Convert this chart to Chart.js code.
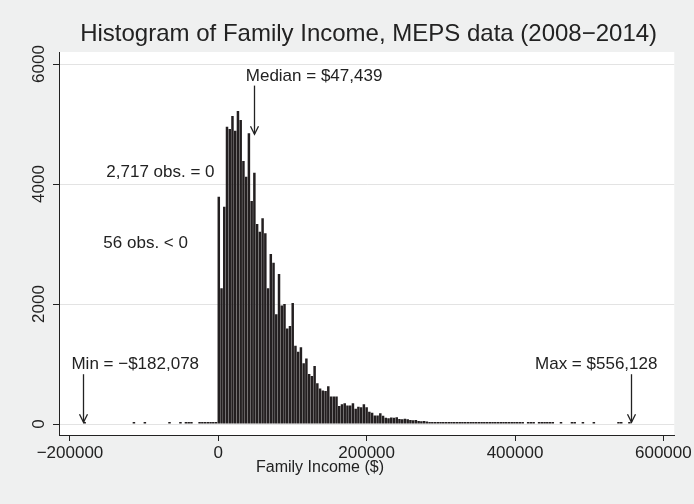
<!DOCTYPE html>
<html>
<head>
<meta charset="utf-8">
<script src="https://cdn.jsdelivr.net/npm/chart.js@4.4.1/dist/chart.umd.min.js"></script>
<style>
  html, body { margin: 0; padding: 0; background: #eff0f0; }
</style>
</head>
<body>
<canvas id="hist" width="694" height="504"></canvas>
<script>
// 200 equal bins between the smallest and largest family income
const minIncome = -182078;
const maxIncome = 556128;
const medianIncome = 47439;
const nBins = 200;
const zeroObs = 2717;
const negObs = 56;

// bins 0-48, all below zero (mostly empty)
const negCounts = [
  1, 0, 0, 0, 0, 0, 0, 0, 0, 0,
  0, 0, 0, 0, 0, 0, 0, 0, 1, 0,
  0, 0, 1, 0, 0, 0, 0, 0, 0, 0,
  0, 1, 0, 0, 0, 1, 0, 1, 2, 1,
  0, 0, 2, 3, 3, 4, 5, 8, 20
];

// bins 49-199, starting with the bin that holds zero
const posCounts = [
  3789, 2261, 3622, 4956, 4917, 5133, 4889, 5217, 5067, 4383,
  4122, 4844, 3717, 4189, 3333, 3206, 3428, 3178, 2261, 2833,
  2689, 1828, 2500, 1975, 2000, 1590, 1633, 2015, 1306, 1206,
  1278, 1011, 1094, 833, 800, 967, 678, 594, 560, 550,
  630, 460, 460, 460, 300, 330, 345, 310, 310, 345,
  256, 289, 278, 328, 278, 206, 189, 144, 144, 178,
  139, 106, 95, 110, 105, 112, 85, 80, 86, 78,
  68, 62, 66, 52, 48, 50, 44, 30, 28, 14,
  12, 33, 30, 34, 18, 16, 27, 26, 12, 10,
  9, 11, 8, 10, 8, 9, 7, 10, 7, 8,
  6, 8, 6, 7, 5, 6, 5, 6, 4, 5,
  3, 4, 0, 3, 2, 3, 0, 2, 3, 2,
  2, 3, 2, 0, 0, 1, 0, 0, 0, 1,
  1, 0, 0, 1, 0, 0, 0, 1, 0, 0,
  0, 0, 0, 0, 0, 0, 1, 1, 0, 0,
  1
];

const xTicks = [-200000, 0, 200000, 400000, 600000];
const yTicks = [0, 2000, 4000, 6000];

const titleText = 'Histogram of Family Income, MEPS data (2008\u22122014)';
const xTitle = 'Family Income ($)';

const ink = '#222222';
const font = '"Liberation Sans", Arial, Helvetica, sans-serif';

const money = v => (v < 0 ? '\u2212$' : '$') + Math.abs(v).toLocaleString('en-US');
const plain = v => (v < 0 ? '\u2212' : '') + Math.abs(v);

const binWidth = (maxIncome - minIncome) / nBins;
const counts = negCounts.concat(posCounts);
const bars = [];
counts.forEach((c, i) => {
  if (c > 0) bars.push({ x: minIncome + (i + 0.5) * binWidth, y: c });
});

const notes = [
  { text: 'Median = ' + money(medianIncome), x: 37000, y: 5790 },
  { text: zeroObs.toLocaleString('en-US') + ' obs. = 0', x: -151000, y: 4200 },
  { text: negObs + ' obs. < 0', x: -155000, y: 3010 },
  { text: 'Min = ' + money(minIncome), x: -198000, y: 1000 },
  { text: 'Max = ' + money(maxIncome), x: 427000, y: 1000 }
];
const arrows = [
  { x: medianIncome, from: 5640, to: 4830 },
  { x: minIncome, from: 830, to: 30 },
  { x: maxIncome, from: 830, to: 30 }
];

const decor = {
  id: 'decor',
  beforeDraw(chart) {
    const { ctx, chartArea: a } = chart;
    ctx.save();
    ctx.fillStyle = '#eff0f0';
    ctx.fillRect(0, 0, chart.width, chart.height);
    ctx.fillStyle = '#ffffff';
    ctx.fillRect(a.left, a.top, a.right - a.left, a.bottom - a.top);
    ctx.restore();
  },
  afterDraw(chart) {
    const { ctx, chartArea: a, scales: { x, y } } = chart;
    ctx.save();
    ctx.fillStyle = ink;
    ctx.strokeStyle = ink;

    ctx.font = '24px ' + font;
    ctx.textAlign = 'center';
    ctx.textBaseline = 'middle';
    ctx.fillText(titleText, (a.left + a.right) / 2 + 2, 34);

    ctx.font = '17px ' + font;
    yTicks.forEach(v => {
      ctx.save();
      ctx.translate(a.left - 20, y.getPixelForValue(v));
      ctx.rotate(-Math.PI / 2);
      ctx.fillText(plain(v), 0, 0);
      ctx.restore();
    });

    ctx.font = '16px ' + font;
    ctx.fillText(xTitle, 320, 468);

    ctx.font = '17px ' + font;
    ctx.textAlign = 'left';
    notes.forEach(n => {
      ctx.fillText(n.text, x.getPixelForValue(n.x), y.getPixelForValue(n.y));
    });

    ctx.lineWidth = 1.3;
    arrows.forEach(ar => {
      const px = Math.round(x.getPixelForValue(ar.x)) + 0.5;
      const y0 = y.getPixelForValue(ar.from);
      const y1 = y.getPixelForValue(ar.to);
      ctx.beginPath();
      ctx.moveTo(px, y0);
      ctx.lineTo(px, y1);
      ctx.stroke();
      ctx.beginPath();
      ctx.moveTo(px - 4, y1 - 8);
      ctx.lineTo(px, y1);
      ctx.lineTo(px + 4, y1 - 8);
      ctx.stroke();
    });
    ctx.restore();
  }
};

new Chart(document.getElementById('hist'), {
  type: 'bar',
  data: {
    datasets: [{
      data: bars,
      backgroundColor: '#231f20',
      borderWidth: 0,
      barPercentage: 0.91,
      categoryPercentage: 1,
      minBarLength: 2
    }]
  },
  options: {
    responsive: false,
    animation: false,
    devicePixelRatio: 1,
    layout: { padding: { top: 52, right: 16, left: 0, bottom: 0 } },
    plugins: { legend: { display: false }, tooltip: { enabled: false } },
    scales: {
      x: {
        type: 'linear',
        offset: false,
        min: -214800,
        max: 614700,
        afterBuildTicks: s => { s.ticks = xTicks.map(v => ({ value: v })); },
        afterFit: s => { s.height = 69; },
        grid: { offset: false, drawOnChartArea: false, color: ink, tickLength: 6 },
        border: { color: ink, width: 1 },
        ticks: {
          color: ink,
          font: { family: font, size: 17 },
          padding: 2,
          maxRotation: 0,
          callback: v => plain(v)
        }
      },
      y: {
        min: -183,
        max: 6200,
        afterBuildTicks: s => { s.ticks = yTicks.map(v => ({ value: v })); },
        afterFit: s => { s.width = 59; },
        grid: { color: '#e3e3e3', tickColor: ink, tickLength: 6 },
        border: { color: ink, width: 1 },
        ticks: { display: false }
      }
    }
  },
  plugins: [decor]
});
</script>
</body>
</html>
